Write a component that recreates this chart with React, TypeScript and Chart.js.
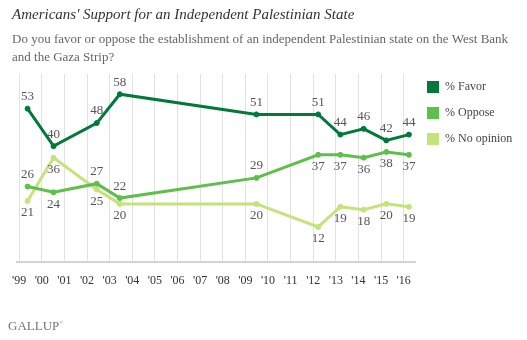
import React, { useEffect, useRef } from 'react';
import { Chart, registerables } from 'chart.js';

Chart.register(...registerables);

// ---------- data ----------
const surveyDates = [1999.37, 2000.52, 2002.43, 2003.45, 2009.49, 2012.22, 2013.2, 2014.23, 2015.23, 2016.23];
const favor = [53, 40, 48, 58, 51, 51, 44, 46, 42, 44];
const oppose = [26, 24, 27, 22, 29, 37, 37, 36, 38, 37];
const noOpinion = [21, 36, 25, 20, 20, 12, 19, 18, 20, 19];

const tickYears = [1999, 2000, 2001, 2002, 2003, 2004, 2005, 2006, 2007, 2008, 2009, 2010, 2011, 2012, 2013, 2014, 2015, 2016];
const tickLabels = ["'99", "'00", "'01", "'02", "'03", "'04", "'05", "'06", "'07", "'08", "'09", "'10", "'11", "'12", "'13", "'14", "'15", "'16"];

const seriesNames = ['% Favor', '% Oppose', '% No opinion'];

const favorPlacement = ['above', 'above', 'above', 'above', 'above', 'above', 'above', 'above', 'above', 'above'];
const opposePlacement = ['above', 'below', 'above', 'above', 'above', 'below', 'below', 'below', 'below', 'below'];
const noOpinionPlacement = ['below', 'below', 'below', 'below', 'below', 'below', 'below', 'below', 'below', 'below'];

const titleText = "Americans' Support for an Independent Palestinian State";
const subtitleLines = [
  'Do you favor or oppose the establishment of an independent Palestinian state on the West Bank',
  'and the Gaza Strip?',
];
const sourceText = 'GALLUP';

// ---------- styles ----------
const COLORS = ['#00793a', '#5ebf4c', '#c4e37a'];
const SERIF = '"Liberation Serif", "DejaVu Serif", serif';

const toPoints = (vals: number[]) => vals.map((v, i) => ({ x: surveyDates[i], y: v }));

const annotationsPlugin = {
  id: 'annotations',
  afterDatasetsDraw(chart: any) {
    const ctx = chart.ctx;
    const placements = [favorPlacement, opposePlacement, noOpinionPlacement];
    ctx.save();
    ctx.font = `13px ${SERIF}`;
    ctx.fillStyle = '#555';
    ctx.textAlign = 'center';
    ctx.textBaseline = 'middle';
    chart.data.datasets.forEach((ds: any, di: number) => {
      const meta = chart.getDatasetMeta(di);
      meta.data.forEach((pt: any, i: number) => {
        const above = placements[di][i] === 'above';
        const y = pt.y + (above ? -12 : 12);
        ctx.fillText(String(ds.data[i].y), pt.x, y);
      });
    });
    ctx.restore();
  },
  afterDraw(chart: any) {
    const ctx = chart.ctx;
    ctx.save();
    ctx.textAlign = 'left';
    ctx.textBaseline = 'middle';
    // title
    ctx.font = `italic 15px ${SERIF}`;
    ctx.fillStyle = '#333';
    ctx.fillText(titleText, 12, 15);
    // subtitle
    ctx.font = `13px ${SERIF}`;
    ctx.fillStyle = '#666';
    subtitleLines.forEach((line, i) => ctx.fillText(line, 12, 40 + i * 18));
    // legend
    ctx.font = `12px ${SERIF}`;
    seriesNames.forEach((name, i) => {
      const cy = 87 + i * 26;
      ctx.fillStyle = COLORS[i];
      ctx.fillRect(427, cy - 6, 12, 12);
      ctx.fillStyle = '#444';
      ctx.fillText(name, 445, cy);
    });
    // source
    ctx.font = `13px ${SERIF}`;
    ctx.fillStyle = '#777';
    ctx.fillText(sourceText, 8, 327);
    const w = ctx.measureText(sourceText).width;
    ctx.font = `5px ${SERIF}`;
    ctx.fillText('®', 8 + w, 323);
    ctx.restore();
  },
};

export default function App() {
  const ref = useRef<HTMLCanvasElement | null>(null);

  useEffect(() => {
    if (!ref.current) return;
    const chart = new Chart(ref.current, {
      type: 'line',
      data: {
        datasets: [favor, oppose, noOpinion].map((vals, i) => ({
          label: seriesNames[i],
          data: toPoints(vals),
          borderColor: COLORS[i],
          backgroundColor: COLORS[i],
          pointBackgroundColor: COLORS[i],
          pointBorderColor: COLORS[i],
          borderWidth: 3,
          pointRadius: 2.5,
          pointBorderWidth: 1,
          tension: 0,
          fill: false,
        })),
      },
      options: {
        animation: false,
        responsive: false,
        devicePixelRatio: 1,
        layout: { padding: { left: 16, right: 112, top: 74, bottom: 40 } },
        plugins: {
          legend: { display: false },
          title: { display: false },
          tooltip: { enabled: false },
        },
        scales: {
          x: {
            type: 'linear',
            min: 1998.9,
            max: 2016.5,
            afterBuildTicks: (axis: any) => {
              axis.ticks = tickYears.map((v) => ({ value: v }));
            },
            ticks: {
              autoSkip: false,
              maxRotation: 0,
              padding: 12,
              color: '#333',
              font: { family: SERIF, size: 12 },
              callback: (value: any) => {
                const idx = tickYears.indexOf(Number(value));
                return idx >= 0 ? tickLabels[idx] : '';
              },
            },
            grid: { color: '#e2e2e2', lineWidth: 1, drawTicks: false },
            border: { display: true, color: '#d4d4d4', width: 2 },
          },
          y: {
            display: false,
            min: 0,
            max: 65,
          },
        },
      },
      plugins: [annotationsPlugin],
    });
    return () => chart.destroy();
  }, []);

  return (
    <div style={{ position: 'fixed', left: 0, top: 0, width: 527, height: 340, background: '#fff' }}>
      <canvas ref={ref} width={527} height={340} />
    </div>
  );
}
